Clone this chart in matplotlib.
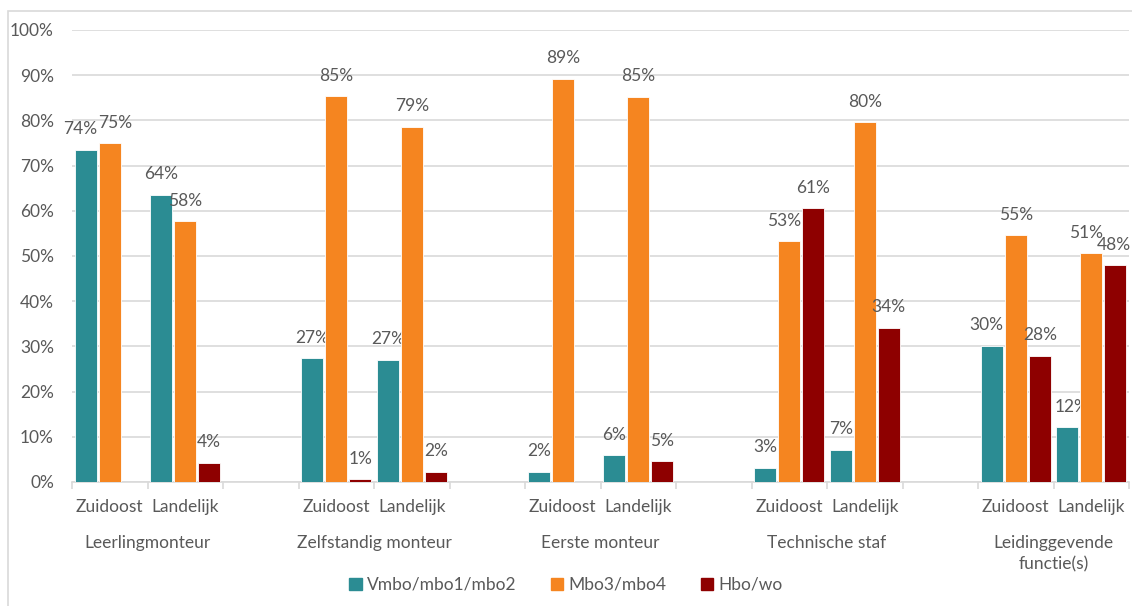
import numpy as np
import matplotlib.pyplot as plt
from matplotlib.patches import Rectangle, Patch
from matplotlib.transforms import blended_transform_factory

plt.rcParams['font.family'] = ['Lato', 'DejaVu Sans']

categories = ["Leerlingmonteur", "Zelfstandig monteur", "Eerste monteur",
              "Technische staf", "Leidinggevende\nfunctie(s)"]
regions = ["Zuidoost", "Landelijk"]
series = ["Vmbo/mbo1/mbo2", "Mbo3/mbo4", "Hbo/wo"]

# values in %, order: cat0 Zuidoost, cat0 Landelijk, cat1 Zuidoost, ...
vmbo = [73.5, 63.5, 27.4, 27.1, 2.3, 5.9, 3.1, 7.1, 30.1, 12.1]
mbo = [74.9, 57.7, 85.3, 78.6, 89.2, 85.2, 53.3, 79.6, 54.6, 50.6]
hbo = [None, 4.3, 0.6, 2.3, None, 4.6, 60.6, 34.1, 27.9, 48.0]

colors = ["#2B8C93", "#F58520", "#8E0000"]
txt = "#595959"
fs = 12.5

# label nudges in points (series index, bar index) -> dx
nudge = {(0, 0): -4, (1, 0): 4, (1, 6): -4, (0, 8): -4, (0, 9): 3,
         (1, 9): -4, (2, 9): -1}

fig = plt.figure(figsize=(11.32, 6.06), dpi=100)
fig.patches.append(Rectangle((8 / 1132, -0.01), 1.2, 1 - 11 / 606 + 0.01,
                             transform=fig.transFigure, fill=False,
                             edgecolor="#d9d9d9", linewidth=1.2))
ax = fig.add_axes([72 / 1132, 1 - 482 / 606, 1057 / 1132, 452 / 606])

pitch = 0.318
width = 0.29
for s, vals in enumerate([vmbo, mbo, hbo]):
    for k, v in enumerate(vals):
        if v is None:
            continue
        slot = 3 * (k // 2) + (k % 2)
        x = slot + 0.5 + (s - 1) * pitch
        ax.bar(x, v, width=width, color=colors[s], edgecolor="white",
               linewidth=0.6, zorder=3)
        ax.annotate(f"{v:.0f}%", (x, v), xytext=(nudge.get((s, k), 0), 9),
                    textcoords="offset points", ha="center", va="bottom",
                    fontsize=fs, color=txt)

ax.set_xlim(0, 14)
ax.set_ylim(0, 100)
ax.set_yticks(np.arange(0, 101, 10))
ax.set_yticklabels([f"{t}%" for t in range(0, 101, 10)])
ax.yaxis.grid(True, color="#d9d9d9", linewidth=1.2, zorder=0)
ax.tick_params(axis="y", length=0, labelsize=fs, labelcolor=txt, pad=13)

ax.set_xticks(np.arange(0, 15))
ax.set_xticklabels([])
ax.tick_params(axis="x", which="major", length=5, color="#d9d9d9", width=1.2)
minor = [3 * i + j + 0.5 for i in range(len(categories)) for j in range(2)]
ax.set_xticks(minor, minor=True)
ax.set_xticklabels(regions * len(categories), minor=True)
ax.tick_params(axis="x", which="minor", length=0, labelsize=fs,
               labelcolor=txt, pad=12)

trans = blended_transform_factory(ax.transData, ax.transAxes)
for i, c in enumerate(categories):
    ax.text(3 * i + 1, -0.118, c, transform=trans, ha="center", va="top",
            fontsize=fs, color=txt, linespacing=1.4)

for sp in ["top", "right", "left"]:
    ax.spines[sp].set_visible(False)
ax.spines["bottom"].set_color("#d9d9d9")
ax.spines["bottom"].set_linewidth(1.2)

handles = [Patch(color=c) for c in colors]
fig.legend(handles, series, loc="center", bbox_to_anchor=(0.5, 1 - 585 / 606),
           ncol=3, frameon=False, fontsize=fs, handlelength=0.7,
           handleheight=0.7, handletextpad=0.3, columnspacing=2.0,
           labelcolor=txt)

fig.savefig("out.png", dpi=100)
